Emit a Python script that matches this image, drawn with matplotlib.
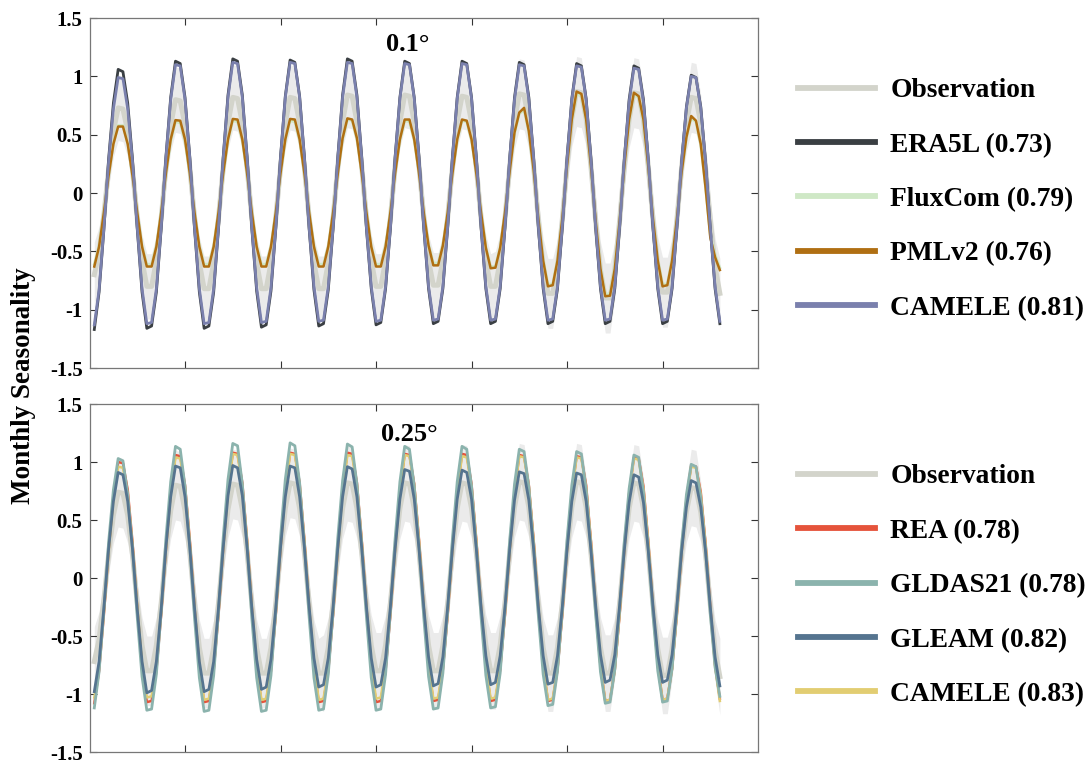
import numpy as np
import matplotlib
matplotlib.use('Agg')
import matplotlib.pyplot as plt
from matplotlib.lines import Line2D

plt.rcParams['font.family'] = ['Liberation Serif', 'DejaVu Serif']
plt.rcParams['font.weight'] = 'bold'

months = np.arange(1, 133)

# ---------------- 0.1 degree panel (monthly values, Jan..Dec per row) ----------------
obs_01 = [
    -0.70, -0.51, -0.19, 0.20, 0.53, 0.73, 0.72, 0.53, 0.20, -0.22, -0.58, -0.80,
    -0.80, -0.58, -0.22, 0.22, 0.58, 0.80, 0.79, 0.58, 0.22, -0.22, -0.60, -0.82,
    -0.82, -0.60, -0.22, 0.22, 0.60, 0.82, 0.81, 0.60, 0.22, -0.22, -0.60, -0.82,
    -0.82, -0.60, -0.22, 0.22, 0.60, 0.82, 0.81, 0.60, 0.22, -0.22, -0.60, -0.82,
    -0.82, -0.60, -0.22, 0.23, 0.61, 0.84, 0.83, 0.61, 0.23, -0.22, -0.58, -0.80,
    -0.80, -0.58, -0.22, 0.23, 0.61, 0.84, 0.83, 0.61, 0.23, -0.21, -0.58, -0.79,
    -0.79, -0.58, -0.21, 0.22, 0.61, 0.83, 0.82, 0.61, 0.22, -0.22, -0.58, -0.80,
    -0.80, -0.58, -0.22, 0.23, 0.62, 0.85, 0.84, 0.62, 0.23, -0.23, -0.63, -0.86,
    -0.86, -0.63, -0.23, 0.23, 0.64, 0.87, 0.86, 0.64, 0.23, -0.24, -0.66, -0.90,
    -0.90, -0.66, -0.24, 0.23, 0.63, 0.86, 0.85, 0.63, 0.23, -0.23, -0.62, -0.85,
    -0.85, -0.62, -0.23, 0.22, 0.60, 0.82, 0.81, 0.60, 0.22, -0.23, -0.63, -0.86,
]
obs_01_spread = [
    0.28, 0.22, 0.15, 0.15, 0.22, 0.28, 0.28, 0.22, 0.15, 0.15, 0.22, 0.28,
    0.28, 0.22, 0.15, 0.15, 0.22, 0.28, 0.28, 0.22, 0.15, 0.15, 0.22, 0.28,
    0.28, 0.22, 0.15, 0.15, 0.22, 0.28, 0.28, 0.22, 0.15, 0.15, 0.22, 0.28,
    0.28, 0.22, 0.15, 0.15, 0.22, 0.28, 0.28, 0.22, 0.15, 0.15, 0.22, 0.28,
    0.28, 0.22, 0.15, 0.15, 0.22, 0.28, 0.28, 0.22, 0.15, 0.15, 0.22, 0.28,
    0.28, 0.22, 0.15, 0.15, 0.22, 0.28, 0.28, 0.22, 0.15, 0.15, 0.22, 0.28,
    0.28, 0.22, 0.15, 0.15, 0.22, 0.28, 0.28, 0.22, 0.15, 0.15, 0.22, 0.28,
    0.30, 0.24, 0.16, 0.16, 0.24, 0.30, 0.30, 0.24, 0.16, 0.16, 0.24, 0.30,
    0.30, 0.24, 0.16, 0.16, 0.24, 0.30, 0.30, 0.24, 0.16, 0.16, 0.24, 0.30,
    0.30, 0.24, 0.16, 0.16, 0.24, 0.30, 0.30, 0.24, 0.16, 0.16, 0.24, 0.30,
    0.30, 0.24, 0.16, 0.16, 0.24, 0.30, 0.30, 0.24, 0.16, 0.16, 0.24, 0.30,
]
era5l_01 = [
    -1.17, -0.85, -0.32, 0.29, 0.77, 1.06, 1.04, 0.77, 0.29, -0.31, -0.85, -1.16,
    -1.14, -0.85, -0.31, 0.31, 0.82, 1.13, 1.11, 0.82, 0.31, -0.31, -0.85, -1.16,
    -1.14, -0.85, -0.31, 0.31, 0.84, 1.15, 1.13, 0.84, 0.31, -0.31, -0.84, -1.15,
    -1.13, -0.84, -0.31, 0.31, 0.83, 1.14, 1.12, 0.83, 0.31, -0.31, -0.83, -1.14,
    -1.12, -0.83, -0.31, 0.31, 0.84, 1.15, 1.13, 0.84, 0.31, -0.31, -0.82, -1.13,
    -1.11, -0.82, -0.31, 0.31, 0.82, 1.13, 1.11, 0.82, 0.31, -0.30, -0.82, -1.12,
    -1.10, -0.82, -0.30, 0.31, 0.82, 1.13, 1.11, 0.82, 0.31, -0.30, -0.82, -1.12,
    -1.10, -0.82, -0.30, 0.30, 0.82, 1.12, 1.10, 0.82, 0.30, -0.30, -0.82, -1.12,
    -1.10, -0.82, -0.30, 0.30, 0.81, 1.11, 1.09, 0.81, 0.30, -0.30, -0.82, -1.12,
    -1.10, -0.82, -0.30, 0.29, 0.80, 1.09, 1.07, 0.80, 0.29, -0.30, -0.82, -1.12,
    -1.10, -0.82, -0.30, 0.27, 0.74, 1.01, 0.99, 0.74, 0.27, -0.30, -0.82, -1.12,
]
fluxcom_01 = [
    -0.61, -0.45, -0.16, 0.15, 0.42, 0.58, 0.58, 0.42, 0.15, -0.16, -0.45, -0.61,
    -0.61, -0.45, -0.16, 0.16, 0.44, 0.61, 0.60, 0.44, 0.16, -0.16, -0.45, -0.61,
    -0.61, -0.45, -0.16, 0.16, 0.45, 0.62, 0.61, 0.45, 0.16, -0.16, -0.45, -0.61,
    -0.61, -0.45, -0.16, 0.16, 0.45, 0.62, 0.61, 0.45, 0.16, -0.16, -0.45, -0.61,
    -0.61, -0.45, -0.16, 0.17, 0.46, 0.63, 0.62, 0.46, 0.17, -0.16, -0.45, -0.61,
    -0.61, -0.45, -0.16, 0.17, 0.45, 0.62, 0.61, 0.45, 0.17, -0.16, -0.44, -0.60,
    -0.60, -0.44, -0.16, 0.17, 0.45, 0.62, 0.61, 0.45, 0.17, -0.17, -0.46, -0.63,
    -0.63, -0.46, -0.17, 0.19, 0.51, 0.68, 0.71, 0.52, 0.19, -0.21, -0.57, -0.78,
    -0.78, -0.57, -0.21, 0.23, 0.62, 0.85, 0.83, 0.62, 0.22, -0.24, -0.64, -0.87,
    -0.86, -0.63, -0.23, 0.22, 0.62, 0.84, 0.82, 0.61, 0.22, -0.21, -0.57, -0.78,
    -0.78, -0.57, -0.21, 0.18, 0.47, 0.64, 0.61, 0.41, 0.05, -0.36, -0.53, -0.64,
]
pmlv2_01 = [
    -0.63, -0.46, -0.17, 0.15, 0.42, 0.57, 0.57, 0.42, 0.15, -0.17, -0.46, -0.63,
    -0.63, -0.46, -0.17, 0.17, 0.46, 0.625, 0.62, 0.46, 0.17, -0.17, -0.46, -0.63,
    -0.63, -0.46, -0.17, 0.17, 0.46, 0.635, 0.63, 0.46, 0.17, -0.17, -0.46, -0.63,
    -0.63, -0.46, -0.17, 0.17, 0.46, 0.635, 0.63, 0.46, 0.17, -0.17, -0.46, -0.63,
    -0.63, -0.46, -0.17, 0.17, 0.47, 0.64, 0.63, 0.47, 0.17, -0.17, -0.46, -0.63,
    -0.63, -0.46, -0.17, 0.17, 0.46, 0.63, 0.63, 0.46, 0.17, -0.17, -0.45, -0.62,
    -0.62, -0.45, -0.17, 0.17, 0.46, 0.63, 0.62, 0.46, 0.17, -0.17, -0.47, -0.645,
    -0.64, -0.47, -0.17, 0.19, 0.52, 0.69, 0.73, 0.53, 0.20, -0.22, -0.58, -0.80,
    -0.79, -0.58, -0.22, 0.23, 0.63, 0.87, 0.85, 0.63, 0.23, -0.24, -0.65, -0.885,
    -0.88, -0.65, -0.24, 0.23, 0.63, 0.86, 0.83, 0.63, 0.23, -0.22, -0.58, -0.80,
    -0.79, -0.58, -0.22, 0.18, 0.48, 0.66, 0.62, 0.42, 0.05, -0.38, -0.55, -0.66,
]
camele_01 = [
    -1.13, -0.83, -0.31, 0.27, 0.72, 0.99, 0.98, 0.72, 0.27, -0.30, -0.82, -1.12,
    -1.11, -0.82, -0.30, 0.30, 0.80, 1.10, 1.09, 0.80, 0.30, -0.30, -0.82, -1.12,
    -1.11, -0.82, -0.30, 0.30, 0.82, 1.12, 1.11, 0.82, 0.30, -0.30, -0.81, -1.11,
    -1.10, -0.81, -0.30, 0.30, 0.82, 1.12, 1.11, 0.82, 0.30, -0.30, -0.80, -1.10,
    -1.09, -0.80, -0.30, 0.30, 0.82, 1.12, 1.11, 0.82, 0.30, -0.30, -0.80, -1.10,
    -1.09, -0.80, -0.30, 0.30, 0.81, 1.11, 1.10, 0.81, 0.30, -0.29, -0.80, -1.09,
    -1.08, -0.80, -0.29, 0.30, 0.81, 1.11, 1.10, 0.81, 0.30, -0.29, -0.80, -1.09,
    -1.08, -0.80, -0.29, 0.30, 0.80, 1.10, 1.09, 0.80, 0.30, -0.29, -0.80, -1.09,
    -1.08, -0.80, -0.29, 0.29, 0.80, 1.09, 1.08, 0.80, 0.29, -0.29, -0.80, -1.09,
    -1.08, -0.80, -0.29, 0.29, 0.78, 1.07, 1.06, 0.78, 0.29, -0.29, -0.80, -1.09,
    -1.08, -0.80, -0.29, 0.27, 0.73, 1.00, 0.99, 0.73, 0.27, -0.30, -0.80, -1.10,
]

# ---------------- 0.25 degree panel ----------------
obs_025 = [
    -0.72, -0.53, -0.19, 0.20, 0.54, 0.74, 0.73, 0.54, 0.20, -0.22, -0.58, -0.80,
    -0.80, -0.58, -0.22, 0.22, 0.58, 0.80, 0.79, 0.58, 0.22, -0.22, -0.60, -0.82,
    -0.82, -0.60, -0.22, 0.22, 0.59, 0.81, 0.80, 0.59, 0.22, -0.22, -0.60, -0.82,
    -0.82, -0.60, -0.22, 0.22, 0.60, 0.82, 0.81, 0.60, 0.22, -0.22, -0.60, -0.82,
    -0.82, -0.60, -0.22, 0.22, 0.60, 0.82, 0.81, 0.60, 0.22, -0.22, -0.58, -0.80,
    -0.80, -0.58, -0.22, 0.22, 0.60, 0.82, 0.81, 0.60, 0.22, -0.22, -0.58, -0.80,
    -0.80, -0.58, -0.22, 0.22, 0.60, 0.82, 0.81, 0.60, 0.22, -0.22, -0.58, -0.80,
    -0.80, -0.58, -0.22, 0.22, 0.61, 0.83, 0.82, 0.61, 0.22, -0.22, -0.60, -0.82,
    -0.82, -0.60, -0.22, 0.22, 0.61, 0.83, 0.82, 0.61, 0.22, -0.22, -0.60, -0.82,
    -0.82, -0.60, -0.22, 0.22, 0.60, 0.82, 0.81, 0.60, 0.22, -0.23, -0.61, -0.84,
    -0.84, -0.61, -0.23, 0.21, 0.57, 0.78, 0.77, 0.57, 0.21, -0.23, -0.62, -0.85,
]
obs_025_spread = [
    0.30, 0.24, 0.16, 0.16, 0.24, 0.30, 0.30, 0.24, 0.16, 0.16, 0.24, 0.30,
    0.30, 0.24, 0.16, 0.16, 0.24, 0.30, 0.30, 0.24, 0.16, 0.16, 0.24, 0.30,
    0.30, 0.24, 0.16, 0.16, 0.24, 0.30, 0.30, 0.24, 0.16, 0.16, 0.24, 0.30,
    0.30, 0.24, 0.16, 0.16, 0.24, 0.30, 0.30, 0.24, 0.16, 0.16, 0.24, 0.30,
    0.33, 0.26, 0.17, 0.17, 0.26, 0.33, 0.33, 0.26, 0.17, 0.17, 0.26, 0.33,
    0.33, 0.26, 0.17, 0.17, 0.26, 0.33, 0.33, 0.26, 0.17, 0.17, 0.26, 0.33,
    0.33, 0.26, 0.17, 0.17, 0.26, 0.33, 0.33, 0.26, 0.17, 0.17, 0.26, 0.33,
    0.33, 0.26, 0.17, 0.17, 0.26, 0.33, 0.33, 0.26, 0.17, 0.17, 0.26, 0.33,
    0.33, 0.26, 0.17, 0.17, 0.26, 0.33, 0.33, 0.26, 0.17, 0.17, 0.26, 0.33,
    0.33, 0.26, 0.17, 0.17, 0.26, 0.33, 0.33, 0.26, 0.17, 0.17, 0.26, 0.33,
    0.33, 0.26, 0.17, 0.17, 0.26, 0.33, 0.33, 0.26, 0.17, 0.17, 0.26, 0.33,
]
rea_025 = [
    -1.08, -0.80, -0.32, 0.24, 0.70, 1.00, 0.99, 0.76, 0.31, -0.26, -0.76, -1.07,
    -1.06, -0.80, -0.32, 0.25, 0.74, 1.06, 1.05, 0.80, 0.33, -0.26, -0.76, -1.07,
    -1.06, -0.80, -0.32, 0.26, 0.76, 1.08, 1.07, 0.82, 0.33, -0.26, -0.76, -1.07,
    -1.06, -0.80, -0.32, 0.26, 0.76, 1.08, 1.07, 0.82, 0.33, -0.26, -0.76, -1.07,
    -1.06, -0.80, -0.32, 0.26, 0.76, 1.08, 1.07, 0.82, 0.33, -0.26, -0.76, -1.07,
    -1.06, -0.80, -0.32, 0.26, 0.75, 1.07, 1.06, 0.81, 0.33, -0.26, -0.76, -1.06,
    -1.05, -0.79, -0.32, 0.26, 0.75, 1.07, 1.06, 0.81, 0.33, -0.26, -0.76, -1.06,
    -1.05, -0.79, -0.32, 0.25, 0.74, 1.06, 1.05, 0.80, 0.33, -0.26, -0.76, -1.06,
    -1.05, -0.79, -0.32, 0.25, 0.74, 1.05, 1.04, 0.80, 0.32, -0.26, -0.76, -1.06,
    -1.05, -0.79, -0.32, 0.25, 0.73, 1.04, 1.03, 0.79, 0.32, -0.26, -0.75, -1.05,
    -1.04, -0.78, -0.31, 0.23, 0.68, 0.97, 0.96, 0.74, 0.30, -0.25, -0.75, -1.04,
]
gldas_025 = [
    -1.12, -0.81, -0.28, 0.31, 0.76, 1.03, 1.01, 0.72, 0.25, -0.34, -0.85, -1.14,
    -1.13, -0.83, -0.29, 0.34, 0.83, 1.135, 1.11, 0.79, 0.27, -0.35, -0.86, -1.15,
    -1.14, -0.84, -0.29, 0.35, 0.85, 1.16, 1.14, 0.81, 0.28, -0.35, -0.86, -1.15,
    -1.14, -0.84, -0.29, 0.35, 0.85, 1.165, 1.14, 0.82, 0.28, -0.34, -0.86, -1.14,
    -1.13, -0.83, -0.29, 0.35, 0.84, 1.155, 1.13, 0.81, 0.28, -0.34, -0.86, -1.14,
    -1.13, -0.83, -0.29, 0.34, 0.83, 1.135, 1.11, 0.79, 0.27, -0.34, -0.85, -1.13,
    -1.12, -0.82, -0.28, 0.34, 0.83, 1.135, 1.11, 0.79, 0.27, -0.34, -0.84, -1.12,
    -1.11, -0.82, -0.28, 0.33, 0.81, 1.11, 1.09, 0.78, 0.27, -0.33, -0.83, -1.10,
    -1.09, -0.80, -0.28, 0.33, 0.80, 1.09, 1.07, 0.76, 0.26, -0.32, -0.81, -1.08,
    -1.07, -0.79, -0.27, 0.32, 0.77, 1.06, 1.04, 0.74, 0.25, -0.32, -0.80, -1.07,
    -1.06, -0.78, -0.27, 0.29, 0.72, 0.98, 0.96, 0.69, 0.24, -0.31, -0.77, -1.02,
]
gleam_025 = [
    -0.98, -0.72, -0.26, 0.25, 0.66, 0.91, 0.89, 0.66, 0.25, -0.27, -0.72, -0.99,
    -0.97, -0.72, -0.27, 0.26, 0.70, 0.965, 0.95, 0.70, 0.26, -0.26, -0.72, -0.98,
    -0.96, -0.72, -0.26, 0.26, 0.71, 0.97, 0.95, 0.71, 0.26, -0.26, -0.70, -0.96,
    -0.94, -0.70, -0.26, 0.26, 0.70, 0.965, 0.95, 0.70, 0.26, -0.25, -0.69, -0.94,
    -0.92, -0.69, -0.25, 0.26, 0.70, 0.96, 0.94, 0.70, 0.26, -0.25, -0.69, -0.94,
    -0.92, -0.69, -0.25, 0.25, 0.68, 0.935, 0.92, 0.68, 0.25, -0.25, -0.68, -0.93,
    -0.91, -0.68, -0.25, 0.25, 0.68, 0.93, 0.91, 0.68, 0.25, -0.25, -0.67, -0.92,
    -0.90, -0.67, -0.25, 0.25, 0.67, 0.915, 0.90, 0.67, 0.25, -0.25, -0.67, -0.915,
    -0.90, -0.67, -0.25, 0.24, 0.66, 0.905, 0.89, 0.66, 0.24, -0.24, -0.66, -0.90,
    -0.88, -0.66, -0.24, 0.24, 0.65, 0.89, 0.87, 0.65, 0.24, -0.24, -0.66, -0.90,
    -0.88, -0.66, -0.24, 0.23, 0.61, 0.84, 0.82, 0.61, 0.23, -0.25, -0.68, -0.93,
]
camele_025 = [
    -1.03, -0.78, -0.30, 0.23, 0.68, 0.96, 0.95, 0.72, 0.29, -0.25, -0.74, -1.03,
    -1.02, -0.77, -0.30, 0.25, 0.73, 1.04, 1.03, 0.78, 0.31, -0.26, -0.75, -1.05,
    -1.04, -0.78, -0.30, 0.26, 0.75, 1.07, 1.06, 0.80, 0.32, -0.26, -0.75, -1.05,
    -1.04, -0.78, -0.30, 0.26, 0.75, 1.07, 1.06, 0.80, 0.32, -0.26, -0.75, -1.05,
    -1.04, -0.78, -0.30, 0.25, 0.74, 1.06, 1.05, 0.80, 0.32, -0.26, -0.75, -1.04,
    -1.03, -0.77, -0.30, 0.25, 0.74, 1.06, 1.05, 0.80, 0.32, -0.26, -0.75, -1.04,
    -1.03, -0.77, -0.30, 0.25, 0.74, 1.05, 1.04, 0.79, 0.32, -0.26, -0.75, -1.04,
    -1.03, -0.77, -0.30, 0.25, 0.74, 1.05, 1.04, 0.79, 0.32, -0.26, -0.76, -1.05,
    -1.04, -0.78, -0.30, 0.25, 0.73, 1.04, 1.03, 0.78, 0.31, -0.27, -0.76, -1.06,
    -1.05, -0.79, -0.31, 0.25, 0.72, 1.03, 1.02, 0.77, 0.31, -0.26, -0.76, -1.05,
    -1.04, -0.78, -0.30, 0.23, 0.67, 0.96, 0.95, 0.72, 0.29, -0.27, -0.76, -1.06,
]

labels_01 = ['Observation', 'ERA5L (0.73)', 'FluxCom (0.79)', 'PMLv2 (0.76)', 'CAMELE (0.81)']
labels_025 = ['Observation', 'REA (0.78)', 'GLDAS21 (0.78)', 'GLEAM (0.82)', 'CAMELE (0.83)']
colors_01 = ['#d3d4cb', '#3a3f43', '#cfe8c6', '#b06f12', '#7a80ad']
colors_025 = ['#d3d4cb', '#e5533b', '#8bb3ad', '#55748f', '#e2cd72']
band_color = '#ebebeb'

yticks = [-1.5, -1, -0.5, 0, 0.5, 1, 1.5]
ytick_labels = ['-1.5', '-1', '-0.5', '0', '0.5', '1', '1.5']


def style_axes(ax):
    ax.set_xlim(0, 140)
    ax.set_ylim(-1.5, 1.5)
    ax.set_xticks(range(20, 121, 20))
    ax.set_xticklabels([])
    ax.set_yticks(yticks)
    ax.set_yticklabels(ytick_labels, fontsize=15, fontweight='bold')
    ax.tick_params(direction='in', top=True, right=True, length=5, width=0.8,
                   color='#333333', pad=5)
    for s in ax.spines.values():
        s.set_color('#777777')
        s.set_linewidth(0.9)


def add_legend(ax, labels, colors, y_center):
    handles = [Line2D([0], [0], color=c, lw=4.2) for c in colors]
    ax.legend(handles, labels, loc='center left', bbox_to_anchor=(0.733, y_center),
              bbox_transform=fig.transFigure, frameon=False,
              prop={'size': 19.8, 'weight': 'bold'}, handlelength=2.8,
              handletextpad=0.55, labelspacing=1.06, borderpad=0, borderaxespad=0)


fig = plt.figure(figsize=(10.89, 7.64), dpi=100)
ax1 = fig.add_axes([0.0822, 0.5183, 0.6139, 0.4581])
ax2 = fig.add_axes([0.0822, 0.0157, 0.6139, 0.4555])

# top panel
obs = np.array(obs_01)
spr = np.array(obs_01_spread)
ax1.fill_between(months, obs - spr, obs + spr, color=band_color, lw=0, zorder=1)
ax1.plot(months, obs_01, color=colors_01[0], lw=3.6, zorder=2)
ax1.plot(months, era5l_01, color=colors_01[1], lw=2.0, zorder=3)
ax1.plot(months, fluxcom_01, color=colors_01[2], lw=2.0, zorder=3)
ax1.plot(months, pmlv2_01, color=colors_01[3], lw=1.8, zorder=4)
ax1.plot(months, camele_01, color=colors_01[4], lw=2.0, zorder=5)
ax1.text(0.476, 0.923, '0.1°', transform=ax1.transAxes, ha='center', va='center',
         fontsize=19, fontweight='bold')
style_axes(ax1)
add_legend(ax1, labels_01, colors_01, 0.739)

# bottom panel
obs = np.array(obs_025)
spr = np.array(obs_025_spread)
ax2.fill_between(months, obs - spr, obs + spr, color=band_color, lw=0, zorder=1)
ax2.plot(months, obs_025, color=colors_025[0], lw=3.6, zorder=2)
ax2.plot(months, rea_025, color=colors_025[1], lw=1.8, zorder=3)
ax2.plot(months, camele_025, color=colors_025[4], lw=1.8, zorder=4)
ax2.plot(months, gldas_025, color=colors_025[2], lw=2.0, zorder=5)
ax2.plot(months, gleam_025, color=colors_025[3], lw=2.0, zorder=6)
ax2.text(0.479, 0.912, '0.25°', transform=ax2.transAxes, ha='center', va='center',
         fontsize=19, fontweight='bold')
style_axes(ax2)
add_legend(ax2, labels_025, colors_025, 0.2335)

fig.text(0.022, 0.495, 'Monthly Seasonality', rotation=90, ha='center', va='center',
         fontsize=19.5, fontweight='bold')

fig.savefig('out.png', dpi=100)
